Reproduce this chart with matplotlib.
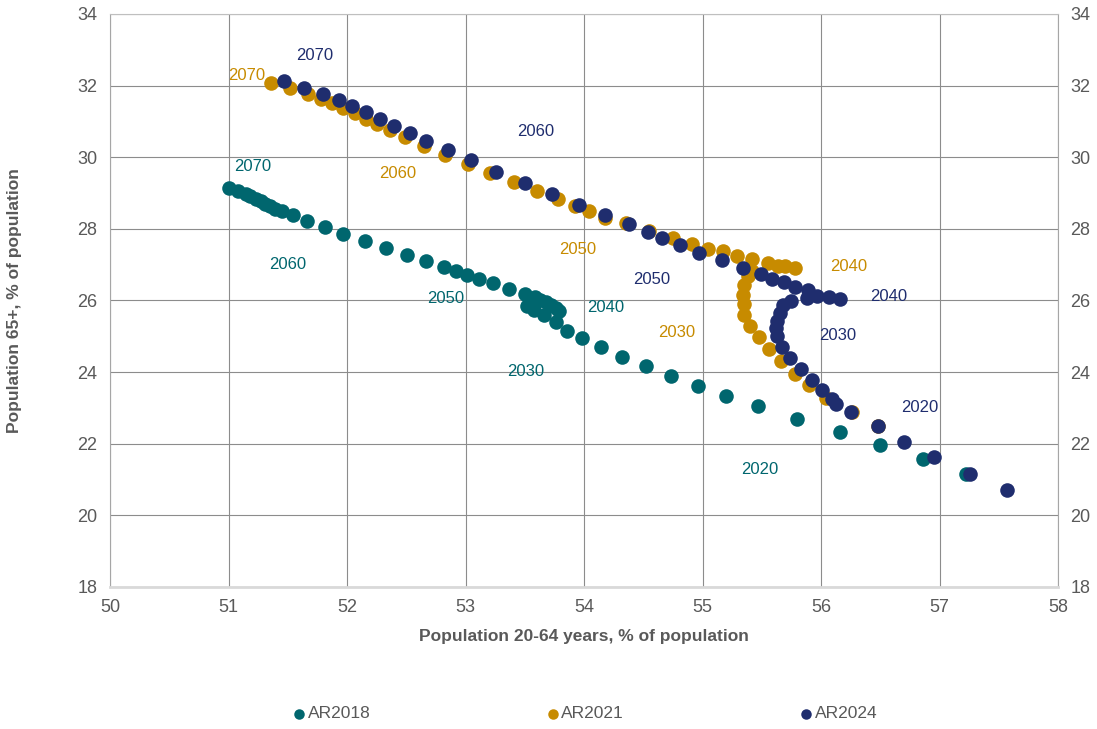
import numpy as np
import matplotlib.pyplot as plt

plt.rcParams['font.family'] = ['Liberation Sans', 'DejaVu Sans']

# AR2018 (teal), from 2017 to 2070
ar18_x = [57.22, 56.86, 56.50, 56.16, 55.80, 55.47, 55.20, 54.96, 54.73, 54.52,
          54.32, 54.14, 53.98, 53.86, 53.76, 53.66, 53.58, 53.52, 53.79, 53.76,
          53.72, 53.68, 53.63, 53.59, 53.50, 53.37, 53.23, 53.11, 53.01, 52.92,
          52.82, 52.67, 52.51, 52.33, 52.15, 51.97, 51.81, 51.66, 51.54, 51.45,
          51.39, 51.35, 51.31, 51.27, 51.23, 51.18, 51.15, 51.08, 51.00]
ar18_y = [21.15, 21.57, 21.96, 22.34, 22.70, 23.04, 23.33, 23.61, 23.89, 24.16,
          24.42, 24.69, 24.95, 25.16, 25.39, 25.60, 25.74, 25.85, 25.70, 25.79,
          25.88, 25.95, 26.02, 26.10, 26.18, 26.32, 26.48, 26.61, 26.72, 26.81,
          26.94, 27.09, 27.27, 27.46, 27.67, 27.87, 28.05, 28.23, 28.38, 28.49,
          28.56, 28.63, 28.70, 28.77, 28.84, 28.91, 28.97, 29.07, 29.14]

# AR2021 (gold)
ar21_x = [56.48, 56.26, 56.04, 55.90, 55.78, 55.66, 55.56, 55.48, 55.40, 55.35,
          55.35, 55.34, 55.35, 55.38, 55.42, 55.64, 55.70, 55.78, 55.55, 55.42,
          55.29, 55.17, 55.05, 54.91, 54.75, 54.55, 54.35, 54.18, 54.04, 53.92,
          53.78, 53.60, 53.41, 53.21, 53.02, 52.83, 52.65, 52.49, 52.36, 52.25,
          52.16, 52.07, 51.97, 51.87, 51.78, 51.67, 51.52, 51.36]
ar21_y = [22.50, 22.90, 23.28, 23.65, 23.96, 24.30, 24.65, 24.97, 25.30, 25.60,
          25.91, 26.16, 26.44, 26.67, 26.81, 26.96, 26.96, 26.90, 27.05, 27.16,
          27.25, 27.37, 27.45, 27.59, 27.75, 27.95, 28.16, 28.30, 28.49, 28.65,
          28.83, 29.06, 29.31, 29.56, 29.82, 30.06, 30.32, 30.56, 30.75, 30.94,
          31.07, 31.24, 31.38, 31.52, 31.63, 31.77, 31.92, 32.08]

# AR2024 (navy)
ar24_x = [57.57, 57.26, 56.95, 56.70, 56.48, 56.25, 56.13, 56.09, 56.01, 55.92,
          55.83, 55.74, 55.67, 55.63, 55.62, 55.63, 55.65, 55.68, 55.75, 55.88,
          55.97, 56.07, 56.16, 55.89, 55.78, 55.69, 55.59, 55.49, 55.34, 55.16,
          54.97, 54.81, 54.66, 54.54, 54.38, 54.18, 53.96, 53.73, 53.50, 53.26,
          53.05, 52.85, 52.67, 52.53, 52.40, 52.28, 52.16, 52.04, 51.93, 51.80,
          51.64, 51.47]
ar24_y = [20.70, 21.15, 21.63, 22.06, 22.50, 22.89, 23.11, 23.25, 23.49, 23.79,
          24.09, 24.39, 24.70, 25.00, 25.23, 25.42, 25.65, 25.88, 25.99, 26.07,
          26.12, 26.09, 26.04, 26.30, 26.39, 26.51, 26.60, 26.74, 26.90, 27.12,
          27.34, 27.54, 27.75, 27.91, 28.14, 28.40, 28.68, 28.98, 29.29, 29.60,
          29.91, 30.20, 30.46, 30.68, 30.88, 31.07, 31.27, 31.42, 31.59, 31.77,
          31.94, 32.14]

teal = '#00666e'
gold = '#c78b00'
navy = '#1f2d6e'
grey = '#595959'

# year labels
labels18 = [('2070', 51.20, 29.74), ('2060', 51.50, 27.00), ('2050', 52.83, 26.05),
            ('2040', 54.18, 25.80), ('2030', 53.51, 24.01), ('2020', 55.48, 21.27)]
labels21 = [('2070', 51.15, 32.28), ('2060', 52.43, 29.54), ('2050', 53.95, 27.42),
            ('2040', 56.23, 26.94), ('2030', 54.78, 25.10)]
labels24 = [('2070', 51.73, 32.84), ('2060', 53.59, 30.72), ('2050', 54.57, 26.58),
            ('2040', 56.57, 26.11), ('2030', 56.14, 25.02), ('2020', 56.83, 23.01)]

fig = plt.figure(figsize=(10.97, 7.29), dpi=100)
ax = fig.add_axes([0.1003, 0.1948, 0.8642, 0.786])

ax.scatter(ar18_x, ar18_y, s=110, color=teal, label='AR2018', zorder=3, linewidths=0)
ax.scatter(ar21_x, ar21_y, s=110, color=gold, label='AR2021', zorder=3, linewidths=0)
ax.scatter(ar24_x, ar24_y, s=110, color=navy, label='AR2024', zorder=4, linewidths=0)

for lst, c in [(labels18, teal), (labels21, gold), (labels24, navy)]:
    for t, x, y in lst:
        ax.text(x, y, t, color=c, fontsize=12, ha='center', va='center', zorder=5)

ax.set_xlim(50, 58)
ax.set_ylim(18, 34)
ax.set_xticks(np.arange(50, 59, 1))
ax.set_yticks(np.arange(18, 35, 2))
ax.grid(True, color='#8c8c8c', linewidth=0.8, zorder=0)
ax.set_axisbelow(True)
ax.tick_params(length=0, labelsize=13, labelcolor=grey, pad=9)
for side in ['left', 'right']:
    ax.spines[side].set_color('#a6a6a6')
    ax.spines[side].set_linewidth(0.8)
ax.spines['top'].set_color('#bfbfbf')
ax.spines['top'].set_linewidth(0.8)
ax.spines['bottom'].set_color('#d9d9d9')
ax.spines['bottom'].set_linewidth(2)

ax.set_xlabel('Population 20-64 years, % of population', fontsize=12.5,
              fontweight='bold', color=grey, labelpad=9)
ax.set_ylabel('Population 65+, % of population', fontsize=12.5,
              fontweight='bold', color=grey)
ax.yaxis.set_label_coords(-0.093, 0.5)

ax2 = ax.twinx()
ax2.set_ylim(18, 34)
ax2.set_yticks(np.arange(18, 35, 2))
ax2.tick_params(length=0, labelsize=13, labelcolor=grey, pad=9)
for s in ax2.spines.values():
    s.set_visible(False)

ax.legend(loc='center', bbox_to_anchor=(0.5, -0.221), ncol=3, frameon=False,
          fontsize=12.5, labelcolor=grey, markerscale=0.72, handletextpad=0.0,
          columnspacing=10.0, handlelength=1.0)

fig.savefig('out.png', dpi=100)
